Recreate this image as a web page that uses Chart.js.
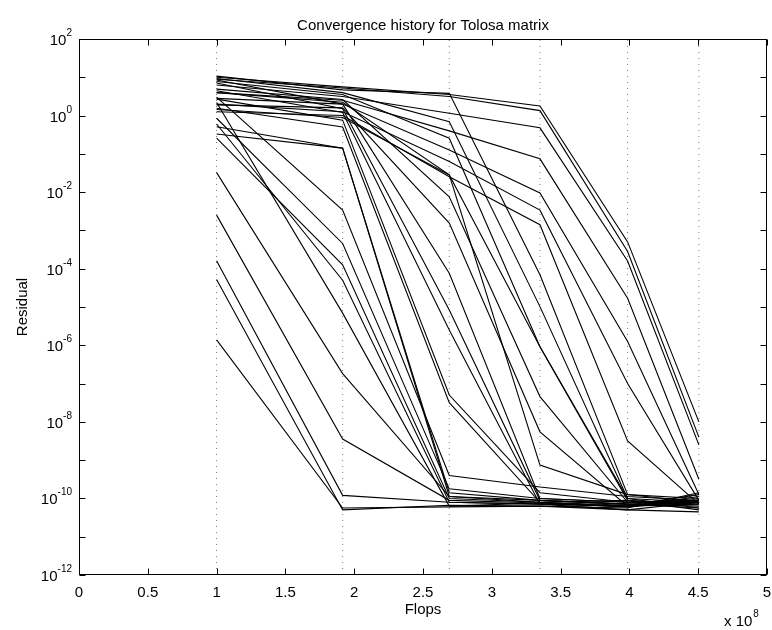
<!DOCTYPE html>
<html>
<head>
<meta charset="utf-8">
<script src="https://cdn.jsdelivr.net/npm/chart.js@4.4.1/dist/chart.umd.min.js"></script>
<style>
  html, body { margin: 0; padding: 0; background: #fff; }
</style>
</head>
<body>
<canvas id="conv" width="772" height="630"></canvas>
<script>
// flops at each restart (x 10^8), also where the dotted markers sit
const flops = [1.0, 1.916, 2.691, 3.35, 3.987, 4.505];
const xTicks = [0, 0.5, 1, 1.5, 2, 2.5, 3, 3.5, 4, 4.5, 5];
const yTickExp = [-12, -11, -10, -9, -8, -7, -6, -5, -4, -3, -2, -1, 0, 1, 2];
const yLabelExp = [-12, -10, -8, -6, -4, -2, 0, 2];

// log10(residual) at each flops position, one array per run
const run01 = [-5.86, -10.25, -10.22, -10.2, -10.3, -10.35];
const run02 = [-4.28, -10.3, -10.18, -10.2, -10.25, -9.85];
const run03 = [-3.79, -9.92, -10.1, -10.15, -10.2, -10.15];
const run04 = [-2.6, -8.45, -10.05, -10.12, -10.2, -10.05];
const run05 = [-1.49, -6.74, -9.95, -10.05, -10.15, -10.25];
const run06 = [0.48, -2.47, -9.4, -9.7, -9.95, -10.05];
const run07 = [-0.07, -3.34, -9.75, -10.0, -10.1, -10.1];
const run08 = [-0.59, -3.9, -10.0, -10.1, -10.05, -10.3];
const run09 = [-0.22, -4.3, -10.1, -10.15, -10.3, -10.1];
const run10 = [0.34, -5.16, -10.2, -10.12, -10.22, -9.95];
const run11 = [-0.29, -0.85, -9.85, -10.05, -10.15, -10.1];
const run12 = [-0.48, -0.85, -9.95, -10.1, -10.18, -9.9];
const run13 = [0.93, 0.3, -4.12, -10.0, -10.1, -10.05];
const run14 = [0.85, 0.18, -5.08, -10.05, -10.15, -10.2];
const run15 = [0.65, 0.08, -5.6, -10.15, -10.2, -10.1];
const run16 = [0.43, -0.12, -7.3, -9.85, -10.1, -10.1];
const run17 = [0.19, -0.3, -7.5, -10.1, -10.22, -10.05];
const run18 = [0.6, 0.35, -1.55, -9.13, -9.9, -10.0];
const run19 = [0.16, -0.05, -1.55, -6.04, -10.0, -10.1];
const run20 = [1.03, 0.67, 0.58, -4.16, -9.9, -10.1];
const run21 = [0.97, 0.6, -0.16, -4.99, -10.0, -10.25];
const run22 = [0.89, 0.55, -0.59, -6.04, -10.05, -10.15];
const run23 = [0.69, 0.42, -2.12, -7.34, -10.1, -10.05];
const run24 = [0.28, 0.2, -2.81, -8.26, -10.2, -10.1];
const run25 = [1.0, 0.75, 0.55, 0.25, -3.3, -8.0];
const run26 = [0.95, 0.72, 0.5, 0.13, -3.55, -8.4];
const run27 = [0.8, 0.5, 0.06, -0.32, -3.8, -8.6];
const run28 = [0.6, 0.4, -0.4, -1.13, -4.77, -9.5];
const run29 = [0.45, 0.3, -0.9, -2.02, -5.9, -9.9];
const run30 = [0.3, 0.1, -1.2, -2.47, -7.0, -10.05];
const run31 = [0.1, 0.0, -1.6, -2.85, -8.5, -10.15];

const runs = [run01, run02, run03, run04, run05, run06, run07, run08, run09, run10,
	run11, run12, run13, run14, run15, run16, run17, run18, run19, run20,
	run21, run22, run23, run24, run25, run26, run27, run28, run29, run30, run31];

const yMin = 1e-12;
const yMax = 1e2;
const fontFamily = '"Liberation Sans", Arial, Helvetica, sans-serif';

// dotted markers at every restart
const markerSets = flops.map(f => ({
	data: [{ x: f, y: yMin }, { x: f, y: yMax }],
	borderColor: '#777',
	borderWidth: 1,
	borderDash: [1, 5],
	pointRadius: 0,
	order: 2
}));

const runSets = runs.map(r => ({
	data: r.map((e, i) => ({ x: flops[i], y: Math.pow(10, e) })),
	borderColor: '#000',
	borderWidth: 1.1,
	pointRadius: 0,
	tension: 0,
	order: 1
}));

// box, inward ticks and all the text, MATLAB style
const matlabAxes = {
	id: 'matlabAxes',
	afterDraw(chart) {
		const { ctx, chartArea: a, scales: { x, y } } = chart;
		ctx.save();
		ctx.strokeStyle = '#000';
		ctx.lineWidth = 1;
		const L = Math.round(a.left) + 0.5, R = Math.round(a.right) - 0.5;
		const T = Math.round(a.top) + 0.5, B = Math.round(a.bottom) - 0.5;
		ctx.strokeRect(L, T, R - L, B - T);
		ctx.beginPath();
		xTicks.forEach(v => {
			const px = Math.round(x.getPixelForValue(v)) + 0.5;
			ctx.moveTo(px, B); ctx.lineTo(px, B - 6);
			ctx.moveTo(px, T); ctx.lineTo(px, T + 6);
		});
		yTickExp.forEach(e => {
			const py = Math.round(y.getPixelForValue(Math.pow(10, e))) + 0.5;
			ctx.moveTo(L, py); ctx.lineTo(L + 6, py);
			ctx.moveTo(R, py); ctx.lineTo(R - 6, py);
		});
		ctx.stroke();

		ctx.fillStyle = '#000';
		ctx.textBaseline = 'alphabetic';

		// x tick labels
		ctx.font = '15px ' + fontFamily;
		ctx.textAlign = 'center';
		xTicks.forEach(v => ctx.fillText(String(v), x.getPixelForValue(v), a.bottom + 22));

		// y tick labels 10^e
		ctx.textAlign = 'left';
		yLabelExp.forEach(e => {
			const py = y.getPixelForValue(Math.pow(10, e));
			const exp = String(e);
			ctx.font = '10px ' + fontFamily;
			const ew = ctx.measureText(exp).width;
			ctx.font = '15px ' + fontFamily;
			const bw = ctx.measureText('10').width;
			const right = a.left - 7;
			ctx.fillText('10', right - ew - bw, py + 6);
			ctx.font = '10px ' + fontFamily;
			ctx.fillText(exp, right - ew, py - 3);
		});

		// title and axis labels
		ctx.font = '15px ' + fontFamily;
		ctx.textAlign = 'center';
		const cx = (a.left + a.right) / 2;
		ctx.fillText('Convergence history for Tolosa matrix', cx, a.top - 9);
		ctx.fillText('Flops', cx, a.bottom + 39);

		ctx.save();
		ctx.translate(27, (a.top + a.bottom) / 2);
		ctx.rotate(-Math.PI / 2);
		ctx.fillText('Residual', 0, 0);
		ctx.restore();

		// x 10^8 multiplier
		ctx.textAlign = 'left';
		ctx.font = '15px ' + fontFamily;
		const mw = ctx.measureText('x 10').width;
		const mx = a.right - 43;
		ctx.fillText('x 10', mx, a.bottom + 51);
		ctx.font = '10px ' + fontFamily;
		ctx.fillText('8', mx + mw + 1, a.bottom + 42);
		ctx.restore();
	}
};

new Chart(document.getElementById('conv'), {
	type: 'line',
	data: { datasets: [...markerSets, ...runSets] },
	options: {
		responsive: false,
		animation: false,
		devicePixelRatio: 1,
		layout: { padding: { left: 79, right: 5, top: 39, bottom: 55 } },
		plugins: { legend: { display: false }, tooltip: { enabled: false }, title: { display: false } },
		scales: {
			x: { type: 'linear', min: 0, max: 5, display: false },
			y: { type: 'logarithmic', min: yMin, max: yMax, display: false }
		}
	},
	plugins: [matlabAxes]
});
</script>
</body>
</html>
